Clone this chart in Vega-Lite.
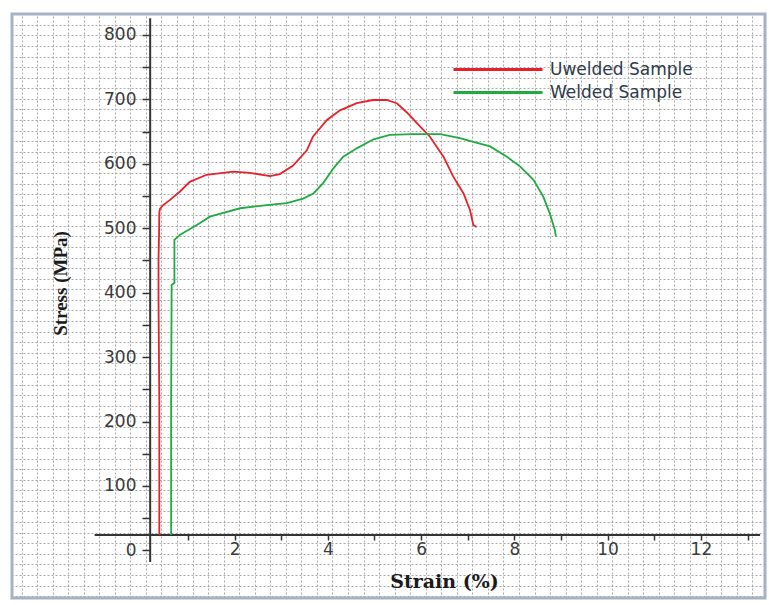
{
  "$schema": "https://vega.github.io/schema/vega-lite/v6.json",
  "width": 753,
  "height": 584,
  "autosize": {"type": "none"},
  "padding": {"left": 12, "top": 14, "right": 4, "bottom": 7},
  "background": "white",
  "config": {"view": {"stroke": "#a4b3c6", "strokeWidth": 3}},
  "datasets": {
    "curves": [
      {"sample": "Uwelded Sample", "i": 0, "strain": 0.386, "stress": 24},
      {"sample": "Uwelded Sample", "i": 1, "strain": 0.386, "stress": 234},
      {"sample": "Uwelded Sample", "i": 2, "strain": 0.369, "stress": 389},
      {"sample": "Uwelded Sample", "i": 3, "strain": 0.369, "stress": 451},
      {"sample": "Uwelded Sample", "i": 4, "strain": 0.38, "stress": 490},
      {"sample": "Uwelded Sample", "i": 5, "strain": 0.386, "stress": 524},
      {"sample": "Uwelded Sample", "i": 6, "strain": 0.40, "stress": 530},
      {"sample": "Uwelded Sample", "i": 7, "strain": 0.47, "stress": 536},
      {"sample": "Uwelded Sample", "i": 8, "strain": 0.615, "stress": 544},
      {"sample": "Uwelded Sample", "i": 9, "strain": 0.83, "stress": 557},
      {"sample": "Uwelded Sample", "i": 10, "strain": 1.04, "stress": 572},
      {"sample": "Uwelded Sample", "i": 11, "strain": 1.40, "stress": 583},
      {"sample": "Uwelded Sample", "i": 12, "strain": 1.97, "stress": 588},
      {"sample": "Uwelded Sample", "i": 13, "strain": 2.33, "stress": 586},
      {"sample": "Uwelded Sample", "i": 14, "strain": 2.76, "stress": 581},
      {"sample": "Uwelded Sample", "i": 15, "strain": 2.97, "stress": 584},
      {"sample": "Uwelded Sample", "i": 16, "strain": 3.25, "stress": 597},
      {"sample": "Uwelded Sample", "i": 17, "strain": 3.55, "stress": 621},
      {"sample": "Uwelded Sample", "i": 18, "strain": 3.68, "stress": 642},
      {"sample": "Uwelded Sample", "i": 19, "strain": 3.98, "stress": 668},
      {"sample": "Uwelded Sample", "i": 20, "strain": 4.26, "stress": 683},
      {"sample": "Uwelded Sample", "i": 21, "strain": 4.62, "stress": 694},
      {"sample": "Uwelded Sample", "i": 22, "strain": 4.97, "stress": 699},
      {"sample": "Uwelded Sample", "i": 23, "strain": 5.26, "stress": 699},
      {"sample": "Uwelded Sample", "i": 24, "strain": 5.48, "stress": 694},
      {"sample": "Uwelded Sample", "i": 25, "strain": 5.69, "stress": 680},
      {"sample": "Uwelded Sample", "i": 26, "strain": 5.91, "stress": 663},
      {"sample": "Uwelded Sample", "i": 27, "strain": 6.19, "stress": 642},
      {"sample": "Uwelded Sample", "i": 28, "strain": 6.48, "stress": 611},
      {"sample": "Uwelded Sample", "i": 29, "strain": 6.69, "stress": 580},
      {"sample": "Uwelded Sample", "i": 30, "strain": 6.91, "stress": 554},
      {"sample": "Uwelded Sample", "i": 31, "strain": 7.05, "stress": 528},
      {"sample": "Uwelded Sample", "i": 32, "strain": 7.12, "stress": 505},
      {"sample": "Uwelded Sample", "i": 33, "strain": 7.19, "stress": 502},
      {"sample": "Welded Sample", "i": 0, "strain": 0.64, "stress": 24},
      {"sample": "Welded Sample", "i": 1, "strain": 0.64, "stress": 234},
      {"sample": "Welded Sample", "i": 2, "strain": 0.65, "stress": 412},
      {"sample": "Welded Sample", "i": 3, "strain": 0.71, "stress": 415},
      {"sample": "Welded Sample", "i": 4, "strain": 0.71, "stress": 482},
      {"sample": "Welded Sample", "i": 5, "strain": 0.83, "stress": 490},
      {"sample": "Welded Sample", "i": 6, "strain": 1.00, "stress": 497},
      {"sample": "Welded Sample", "i": 7, "strain": 1.26, "stress": 508},
      {"sample": "Welded Sample", "i": 8, "strain": 1.47, "stress": 518},
      {"sample": "Welded Sample", "i": 9, "strain": 1.62, "stress": 521},
      {"sample": "Welded Sample", "i": 10, "strain": 2.12, "stress": 531},
      {"sample": "Welded Sample", "i": 11, "strain": 2.69, "stress": 536},
      {"sample": "Welded Sample", "i": 12, "strain": 3.12, "stress": 539},
      {"sample": "Welded Sample", "i": 13, "strain": 3.47, "stress": 546},
      {"sample": "Welded Sample", "i": 14, "strain": 3.69, "stress": 554},
      {"sample": "Welded Sample", "i": 15, "strain": 3.90, "stress": 570},
      {"sample": "Welded Sample", "i": 16, "strain": 4.12, "stress": 593},
      {"sample": "Welded Sample", "i": 17, "strain": 4.33, "stress": 611},
      {"sample": "Welded Sample", "i": 18, "strain": 4.62, "stress": 624},
      {"sample": "Welded Sample", "i": 19, "strain": 4.98, "stress": 638},
      {"sample": "Welded Sample", "i": 20, "strain": 5.33, "stress": 645},
      {"sample": "Welded Sample", "i": 21, "strain": 5.83, "stress": 646},
      {"sample": "Welded Sample", "i": 22, "strain": 6.41, "stress": 646},
      {"sample": "Welded Sample", "i": 23, "strain": 6.83, "stress": 640},
      {"sample": "Welded Sample", "i": 24, "strain": 7.12, "stress": 634},
      {"sample": "Welded Sample", "i": 25, "strain": 7.48, "stress": 627},
      {"sample": "Welded Sample", "i": 26, "strain": 7.84, "stress": 611},
      {"sample": "Welded Sample", "i": 27, "strain": 8.12, "stress": 596},
      {"sample": "Welded Sample", "i": 28, "strain": 8.41, "stress": 575},
      {"sample": "Welded Sample", "i": 29, "strain": 8.62, "stress": 549},
      {"sample": "Welded Sample", "i": 30, "strain": 8.76, "stress": 523},
      {"sample": "Welded Sample", "i": 31, "strain": 8.87, "stress": 497},
      {"sample": "Welded Sample", "i": 32, "strain": 8.89, "stress": 487}
    ]
  },
  "layer": [
    {
      "data": {"name": "curves"},
      "mark": {"type": "point", "opacity": 0},
      "encoding": {
        "x": {
          "field": "strain", "type": "quantitative",
          "scale": {"domain": [-2.773, 13.375], "nice": false, "zero": false},
          "axis": {
            "orient": "top", "grid": true, "labels": false, "ticks": false, "domain": false, "title": null,
            "gridColor": "#a8a8a8", "gridDash": [2, 2], "gridWidth": 1,
            "values": [-2.567,-2.233,-1.9,-1.567,-1.233,-0.9,-0.567,-0.233,0.1,0.433,0.767,1.1,1.433,1.767,2.1,2.433,2.767,3.1,3.433,3.767,4.1,4.433,4.767,5.1,5.433,5.767,6.1,6.433,6.767,7.1,7.433,7.767,8.1,8.433,8.767,9.1,9.433,9.767,10.1,10.433,10.767,11.1,11.433,11.767,12.1,12.433,12.767,13.1]
          }
        },
        "y": {
          "field": "stress", "type": "quantitative",
          "scale": {"domain": [-73.9, 832.5], "nice": false, "zero": false},
          "axis": {
            "orient": "right", "grid": true, "labels": false, "ticks": false, "domain": false, "title": null,
            "gridColor": "#a8a8a8", "gridDash": [2, 2], "gridWidth": 1,
            "values": [-70.98,-54.56,-38.14,-21.72,-5.3,11.12,27.54,43.96,60.38,76.8,93.22,109.64,126.06,142.48,158.9,175.32,191.74,208.16,224.58,241.0,257.42,273.84,290.26,306.68,323.1,339.52,355.94,372.36,388.78,405.2,421.62,438.04,454.46,470.88,487.3,503.72,520.14,536.56,552.98,569.4,585.82,602.24,618.66,635.08,651.5,667.92,684.34,700.76,717.18,733.6,750.02,766.44,782.86,799.28,815.7]
          }
        }
      }
    },
    {
      "data": {"values": [{}]},
      "mark": {"type": "rule", "color": "#333333", "strokeWidth": 2},
      "encoding": {
        "x": {"datum": 0.19, "type": "quantitative", "scale": {"domain": [-2.773, 13.375], "nice": false, "zero": false}, "axis": null},
        "y": {"datum": -18, "type": "quantitative", "scale": {"domain": [-73.9, 832.5], "nice": false, "zero": false}, "axis": null},
        "y2": {"datum": 826}
      }
    },
    {
      "data": {"values": [{}]},
      "mark": {"type": "rule", "color": "#333333", "strokeWidth": 2},
      "encoding": {
        "x": {"datum": -1.0, "type": "quantitative", "scale": {"domain": [-2.773, 13.375], "nice": false, "zero": false}, "axis": null},
        "x2": {"datum": 13.27},
        "y": {"datum": 24, "type": "quantitative", "scale": {"domain": [-73.9, 832.5], "nice": false, "zero": false}, "axis": null}
      }
    },
    {
      "data": {"name": "curves"},
      "mark": {"type": "line", "strokeWidth": 1.8},
      "encoding": {
        "x": {
          "field": "strain", "type": "quantitative",
          "scale": {"domain": [-2.773, 13.375], "nice": false, "zero": false},
          "axis": {
            "orient": "bottom", "offset": -63, "grid": false, "domain": false,
            "values": [1,2,3,4,5,6,7,8,9,10,11,12,13],
            "labelExpr": "datum.value % 2 === 0 ? datum.label : ''",
            "tickSize": 5, "tickWidth": 1.5, "tickColor": "#333333",
            "labelFont": "DejaVu Sans", "labelFontSize": 17, "labelColor": "#3a3a3a", "labelPadding": 1,
            "title": "Strain (%)", "titleFont": "DejaVu Serif", "titleFontWeight": "bold", "titleFontSize": 19,
            "titleColor": "#1a1a1a", "titleX": 432, "titleY": 46, "titleBaseline": "middle", "titleAlign": "center"
          }
        },
        "y": {
          "field": "stress", "type": "quantitative",
          "scale": {"domain": [-73.9, 832.5], "nice": false, "zero": false},
          "axis": {
            "orient": "left", "offset": -138, "grid": false, "domain": false,
            "values": [0,50,100,150,200,250,300,350,400,450,500,550,600,650,700,750,800],
            "labelExpr": "datum.value % 100 === 0 ? datum.label : ''",
            "tickSize": 8, "tickWidth": 1.5, "tickColor": "#333333",
            "labelFont": "DejaVu Sans", "labelFontSize": 17, "labelColor": "#3a3a3a", "labelPadding": 6,
            "title": "Stress (MPa)", "titleFont": "Liberation Serif", "titleFontWeight": "bold", "titleFontSize": 19,
            "titleColor": "#1a1a1a", "titleX": -90, "titleY": 269, "titleAngle": 270, "titleBaseline": "middle", "titleAlign": "center"
          }
        },
        "color": {
          "field": "sample", "type": "nominal",
          "scale": {"domain": ["Uwelded Sample", "Welded Sample"], "range": ["#e8202a", "#1eab40"]},
          "legend": {
            "orient": "none", "legendX": 440, "legendY": 44, "title": null, "padding": 0,
            "symbolType": "stroke", "symbolSize": 7921, "symbolStrokeWidth": 3, "clipHeight": 23,
            "labelFont": "DejaVu Sans", "labelFontSize": 17, "labelColor": "#2f3a4a", "labelOffset": 6, "rowPadding": 0
          }
        },
        "order": {"field": "i", "type": "quantitative"}
      }
    }
  ],
  "resolve": {"axis": {"x": "independent", "y": "independent"}}
}
